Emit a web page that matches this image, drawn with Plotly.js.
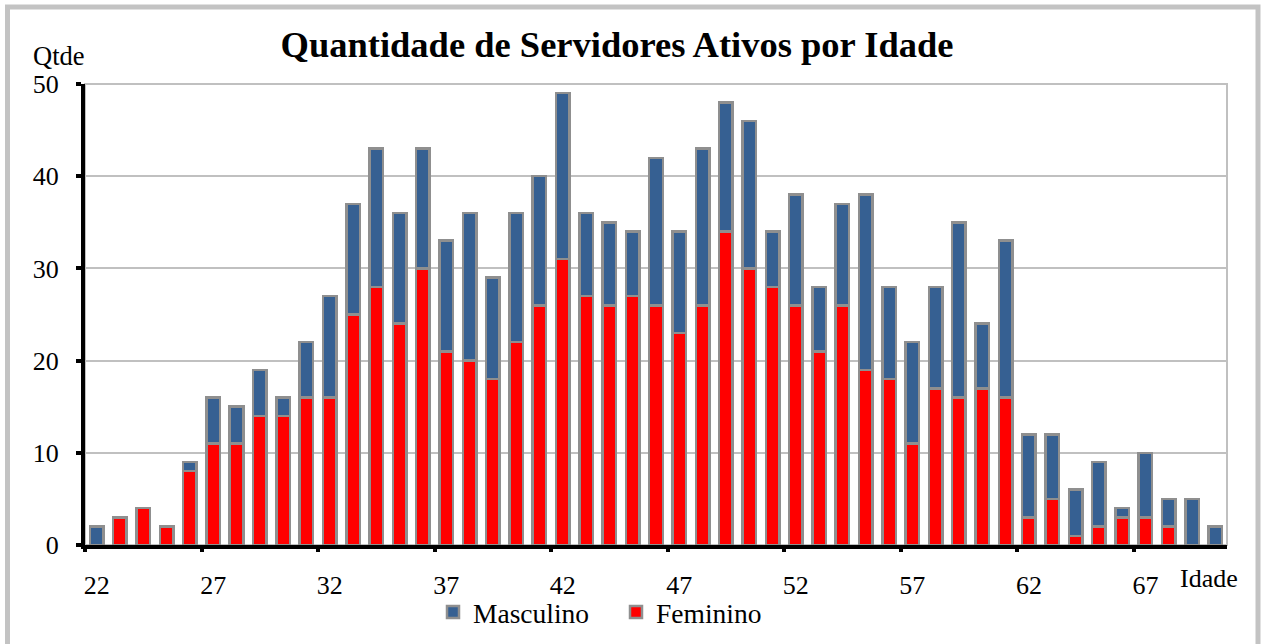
<!DOCTYPE html>
<html>
<head>
<meta charset="utf-8">
<script src="https://cdn.plot.ly/plotly-3.0.1.min.js"></script>
<style>
html,body{margin:0;padding:0;background:#ffffff;}
#chart{width:1265px;height:644px;}
</style>
</head>
<body>
<div id="chart"></div>
<script>
// Data
const idades = [22,23,24,25,26,27,28,29,30,31,32,33,34,35,36,37,38,39,40,41,42,43,44,45,46,47,48,49,50,51,52,53,54,55,56,57,58,59,60,61,62,63,64,65,66,67,68,69,70];
const feminino = [0,3,4,2,8,11,11,14,14,16,16,25,28,24,30,21,20,18,22,26,31,27,26,27,26,23,26,34,30,28,26,21,26,19,18,11,17,16,17,16,3,5,1,2,3,3,2,0,0];
const masculino = [2,0,0,0,1,5,4,5,2,6,11,12,15,12,13,12,16,11,14,14,18,9,9,7,16,11,17,14,16,6,12,7,11,19,10,11,11,19,7,17,9,7,5,7,1,7,3,5,2];
const rotulosX = ["22","27","32","37","42","47","52","57","62","67"];
const rotulosY = [0,10,20,30,40,50];

const FONT = "'Liberation Serif', 'Times New Roman', serif";
const W = 1265, H = 644;
const M = {l:85, r:38, t:84, b:99, autoexpand:false};
const xRange = [idades[0]-0.5, idades[idades.length-1]+0.5];

const traces = [
  {
    type:'bar', name:'Feminino', x:idades, y:feminino,
    marker:{color:'#ff0000', line:{color:'#8f8f8f', width:2.5}},
    hoverinfo:'x+y+name'
  },
  {
    type:'bar', name:'Masculino', x:idades, y:masculino,
    marker:{color:'#366092', line:{color:'#8f8f8f', width:2.5}},
    hoverinfo:'x+y+name'
  },
  // empty trace so the tick-mark axis (category boundaries) is drawn
  {type:'scatter', x:[], y:[], xaxis:'x2', yaxis:'y', showlegend:false, hoverinfo:'skip'}
];

const plotW = W - M.l - M.r;
const px = v => (v - M.l) / plotW;
const py = v => (H - M.b - v) / (H - M.t - M.b);

const layout = {
  width:W, height:H,
  margin:M,
  paper_bgcolor:'#ffffff', plot_bgcolor:'#ffffff',
  barmode:'stack', bargap:0.42,
  font:{family:FONT, color:'#000000', size:26},
  title:{
    text:'Quantidade de Servidores Ativos por Idade',
    font:{family:FONT, size:36.5, color:'#000000', weight:'bold'},
    xref:'container', yref:'container',
    x:617/W, xanchor:'center', y:1-44/H, yanchor:'middle'
  },
  xaxis:{
    type:'linear', range:xRange,
    tickmode:'array',
    tickvals:rotulosX.map(Number),
    ticktext:rotulosX,
    ticks:'', ticklabelstandoff:14,
    showline:true, linecolor:'#000000', linewidth:4,
    showgrid:false, zeroline:false, automargin:false,
    tickfont:{family:FONT, size:26, color:'#000000'},
    fixedrange:true
  },
  xaxis2:{
    type:'linear', range:xRange, overlaying:'x', anchor:'y', side:'bottom',
    tickmode:'array',
    tickvals:rotulosX.map(s => Number(s) - 0.5),
    showticklabels:false,
    ticks:'outside', ticklen:6, tickwidth:4, tickcolor:'#000000',
    showline:false, showgrid:false, zeroline:false, automargin:false,
    fixedrange:true
  },
  yaxis:{
    range:[0,50],
    tickmode:'array', tickvals:rotulosY, ticktext:rotulosY.map(String),
    ticks:'outside', ticklen:5, tickwidth:4, tickcolor:'#000000',
    ticklabelstandoff:12,
    showline:true, linecolor:'#000000', linewidth:4,
    showgrid:true, gridcolor:'#c0c0c0', gridwidth:2,
    zeroline:false, automargin:false,
    tickfont:{family:FONT, size:26, color:'#000000'},
    fixedrange:true
  },
  legend:{
    orientation:'h', traceorder:'reversed',
    x:px(433), xanchor:'left',
    y:py(612), yanchor:'middle',
    font:{family:FONT, size:27.5, color:'#000000'},
    bgcolor:'rgba(0,0,0,0)',
    entrywidthmode:'pixels', entrywidth:138
  },
  annotations:[
    {text:'Qtde', xref:'paper', yref:'paper', x:px(59), y:py(56),
     xanchor:'center', yanchor:'middle', showarrow:false,
     font:{family:FONT, size:26.5, color:'#000000'}},
    {text:'Idade', xref:'paper', yref:'paper', x:px(1209), y:py(578),
     xanchor:'center', yanchor:'middle', showarrow:false,
     font:{family:FONT, size:26, color:'#000000'}}
  ],
  shapes:[
    {type:'rect', xref:'paper', yref:'paper', x0:0, x1:1, y0:0, y1:1,
     line:{color:'#c0c0c0', width:2}, layer:'below'},
    {type:'rect', xref:'paper', yref:'paper', x0:px(7.5), x1:px(1258), y0:py(7), y1:py(670),
     line:{color:'#c3c3c3', width:5}, layer:'below'}
  ]
};

Plotly.newPlot('chart', traces, layout, {displayModeBar:false, staticPlot:true});
</script>
</body>
</html>
